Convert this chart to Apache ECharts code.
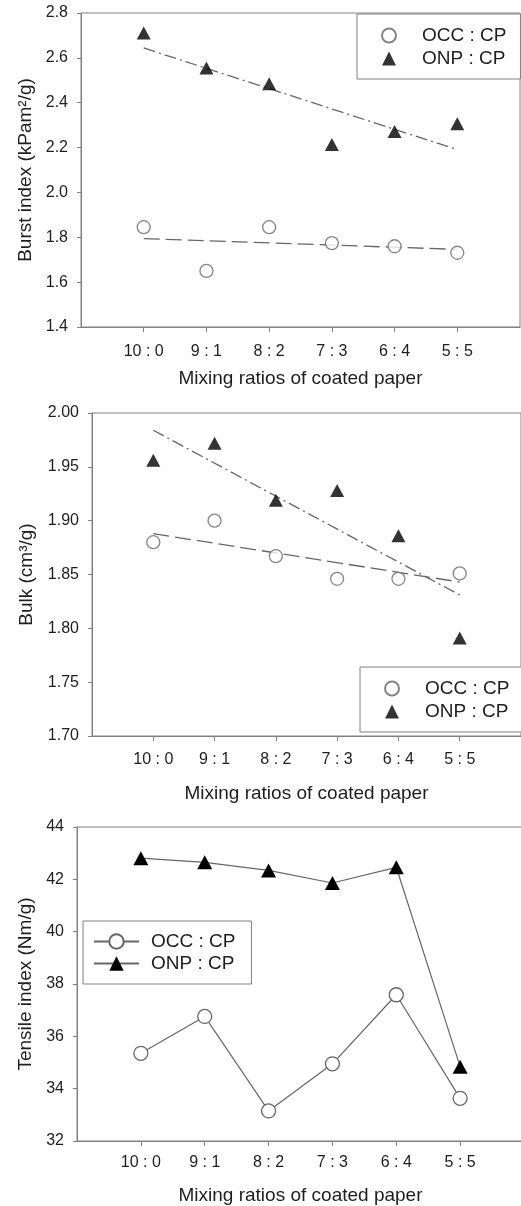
<!DOCTYPE html>
<html>
<head>
<meta charset="utf-8">
<script src="https://cdn.jsdelivr.net/npm/echarts@6/dist/echarts.min.js"></script>
<style>
  html, body { margin: 0; padding: 0; background: #ffffff; }
  #chart { width: 521px; height: 1206px; }
</style>
</head>
<body>
<div id="chart"></div>
<script>
// Mixing ratios (old fibre : coated paper) on the shared x axis
const ratios = ['10 : 0', '9 : 1', '8 : 2', '7 : 3', '6 : 4', '5 : 5'];
const ratioPositions = [1, 2, 3, 4, 5, 6];

// Burst index (kPa·m²/g)
const burstOCC = [1.845, 1.65, 1.845, 1.774, 1.76, 1.731];
const burstONP = [2.711, 2.555, 2.485, 2.214, 2.272, 2.306];
const burstOCCTrend = [1.794, 1.746];   // linear fit at 10:0 and 5:5
const burstONPTrend = [2.644, 2.191];

// Bulk (cm³/g)
const bulkOCC = [1.880, 1.900, 1.867, 1.846, 1.846, 1.851];
const bulkONP = [1.956, 1.972, 1.919, 1.928, 1.886, 1.791];
const bulkOCCTrend = [1.888, 1.843];
const bulkONPTrend = [1.984, 1.831];

// Tensile index (N·m/g)
const tensileOCC = [35.35, 36.76, 33.15, 34.95, 37.59, 33.63];
const tensileONP = [42.81, 42.65, 42.34, 41.86, 42.46, 34.84];

const FONT = '"Liberation Sans", Arial, Helvetica, sans-serif';
const TEXT = '#1e1e1e';
const AXIS = '#808080';
const MARK_LINE = '#666666';

const pts = vals => vals.map((v, i) => [ratioPositions[i], v]);
const trend = ends => [[ratioPositions[0], ends[0]], [ratioPositions[ratioPositions.length - 1], ends[1]]];
const shownName = n => n.split('|')[1];

function xAxis(gridIndex, labelMargin, nameGap) {
  return {
    type: 'value', gridIndex, min: 0, max: 7, interval: 1,
    axisLine: { show: true, onZero: false, lineStyle: { color: AXIS, width: 1 } },
    axisTick: { show: true, customValues: ratioPositions, length: 5, lineStyle: { color: AXIS } },
    axisLabel: {
      customValues: ratioPositions, formatter: v => ratios[v - 1] || '',
      margin: labelMargin, fontSize: 16, color: TEXT, fontFamily: FONT
    },
    splitLine: { show: false },
    name: 'Mixing ratios of coated paper', nameLocation: 'middle', nameGap,
    nameMoveOverlap: false,
    nameTextStyle: { fontSize: 19, color: TEXT, fontFamily: FONT }
  };
}

function yAxis(gridIndex, min, max, interval, digits, name, nameGap) {
  return {
    type: 'value', gridIndex, min, max, interval,
    axisLine: { show: true, onZero: false, lineStyle: { color: AXIS, width: 1 } },
    axisTick: { show: true, length: 4, lineStyle: { color: AXIS } },
    axisLabel: {
      formatter: v => v.toFixed(digits), margin: 13,
      fontSize: 16, color: TEXT, fontFamily: FONT
    },
    splitLine: { show: false },
    name, nameLocation: 'middle', nameGap, nameMoveOverlap: false,
    nameTextStyle: { fontSize: 19, color: TEXT, fontFamily: FONT }
  };
}

function scatterPair(prefix, idx, occ, onp) {
  return [
    {
      name: prefix + '|OCC : CP', type: 'scatter', xAxisIndex: idx, yAxisIndex: idx,
      symbol: 'circle', symbolSize: 13, z: 5,
      itemStyle: { color: '#ffffff', borderColor: MARK_LINE, borderWidth: 1.3 },
      data: pts(occ)
    },
    {
      name: prefix + '|ONP : CP', type: 'scatter', xAxisIndex: idx, yAxisIndex: idx,
      symbol: 'triangle', symbolSize: [14, 13], z: 5,
      itemStyle: { color: '#000000' },
      data: pts(onp)
    }
  ];
}

function trendLine(idx, ends, dash) {
  return {
    type: 'line', xAxisIndex: idx, yAxisIndex: idx, silent: true, z: 3,
    showSymbol: false, symbol: 'none',
    lineStyle: { color: MARK_LINE, width: 1.3, type: dash },
    data: trend(ends)
  };
}

function legend(prefix, left, top, opts) {
  return Object.assign({
    orient: 'vertical', left, top,
    data: [prefix + '|OCC : CP', prefix + '|ONP : CP'],
    formatter: shownName,
    selectedMode: false,
    borderColor: AXIS, borderWidth: 1, backgroundColor: '#ffffff',
    padding: [12, 14, 11, 24], itemWidth: 14, itemHeight: 14, itemGap: 4,
    textStyle: { fontSize: 19, color: TEXT, fontFamily: FONT, padding: [0, 0, 0, 21] }
  }, opts || {});
}

const chart = echarts.init(document.getElementById('chart'), null, { renderer: 'canvas' });

chart.setOption({
  backgroundColor: '#ffffff',
  animation: false,
  textStyle: { fontFamily: FONT },
  grid: [
    { left: 81, top: 13, right: 1, bottom: 879, show: true, borderColor: AXIS, borderWidth: 1, outerBoundsMode: 'none' },
    { left: 92, top: 413, right: 0, bottom: 470, show: true, borderColor: AXIS, borderWidth: 1, outerBoundsMode: 'none' },
    { left: 77, top: 827, right: -3, bottom: 65, show: true, borderColor: AXIS, borderWidth: 1, outerBoundsMode: 'none' }
  ],
  xAxis: [
    xAxis(0, 17, 42),
    xAxis(1, 16, 48),
    xAxis(2, 14, 45)
  ],
  yAxis: [
    yAxis(0, 1.4, 2.8, 0.2, 1, 'Burst index (kPam²/g)', 46),
    yAxis(1, 1.70, 2.00, 0.05, 2, 'Bulk (cm³/g)', 56),
    yAxis(2, 32, 44, 2, 0, 'Tensile index (Nm/g)', 42)
  ],
  legend: [
    legend('burst', 357, 14),
    legend('bulk', 360, 667),
    legend('tensile', 83, 921, {
      padding: [11, 16, 11, 10], itemWidth: 45, itemHeight: 18, itemGap: 3,
      textStyle: { fontSize: 19, color: TEXT, fontFamily: FONT, padding: [0, 0, 0, 7] }
    })
  ],
  series: [
    trendLine(0, burstOCCTrend, [16, 6]),
    trendLine(0, burstONPTrend, [12, 4, 2, 4]),
    ...scatterPair('burst', 0, burstOCC, burstONP),

    trendLine(1, bulkOCCTrend, [16, 6]),
    trendLine(1, bulkONPTrend, [12, 4, 2, 4]),
    ...scatterPair('bulk', 1, bulkOCC, bulkONP),

    {
      name: 'tensile|OCC : CP', type: 'line', xAxisIndex: 2, yAxisIndex: 2,
      symbol: 'circle', symbolSize: 14, showSymbol: true, z: 4,
      lineStyle: { color: MARK_LINE, width: 1.2 },
      itemStyle: { color: '#ffffff', borderColor: MARK_LINE, borderWidth: 1.3 },
      data: pts(tensileOCC)
    },
    {
      name: 'tensile|ONP : CP', type: 'line', xAxisIndex: 2, yAxisIndex: 2,
      symbol: 'triangle', symbolSize: [15, 14], showSymbol: true, z: 4,
      lineStyle: { color: MARK_LINE, width: 1.2 },
      itemStyle: { color: '#000000' },
      data: pts(tensileONP)
    }
  ]
});
</script>
</body>
</html>
